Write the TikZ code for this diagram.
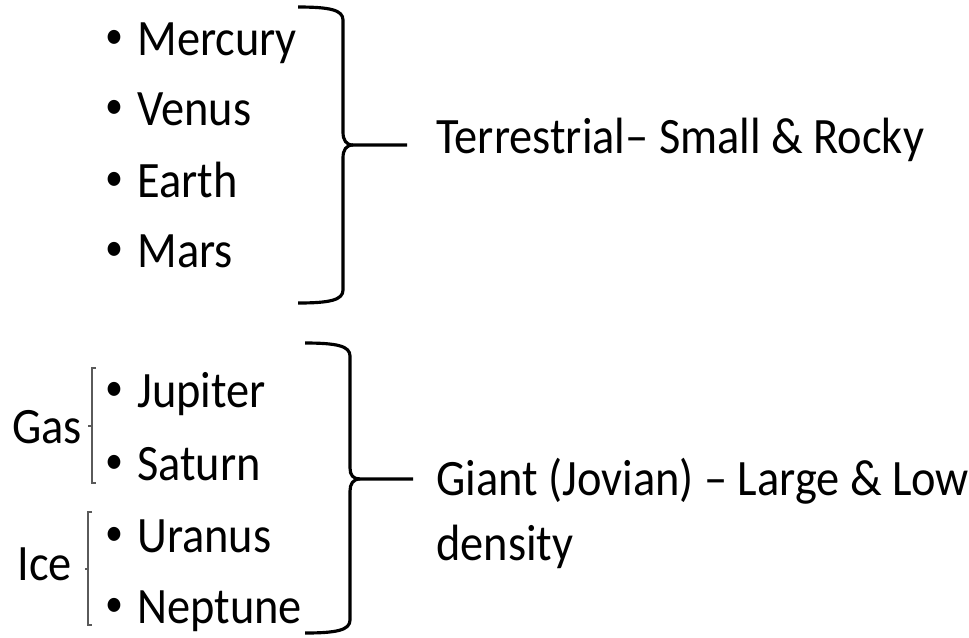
\documentclass[tikz,border=0pt]{standalone}
\usepackage{fontspec}
\setmainfont{Carlito}
\usetikzlibrary{positioning}
\definecolor{inkblack}{RGB}{0, 0, 0}
\definecolor{thingray}{RGB}{90, 90, 90}
\tikzset{
    txt/.style={inner sep=0pt, anchor=base west, text=inkblack,
        font=\fontsize{26.4}{33.5}\selectfont, yscale=1.1, transform shape},
    planet/.style={txt},
    dot/.style={txt, anchor=center, font=\fontsize{20.5}{24}\selectfont},
    bigbrace/.style={draw=inkblack, line width=1.8pt, line join=round},
    smallbrace/.style={draw=thingray, line width=1pt},
}

\begin{document}
\begin{tikzpicture}[x=0.02cm, y=-0.02cm]
    \useasboundingbox (0,0) rectangle (969,637);

    % planets, one per row
    \foreach \name/\yy [count=\i] in {Mercury/55, Venus/125, Earth/197, Mars/267,
        Jupiter/407, Saturn/480, Uranus/552, Neptune/623} {
        \node[dot] (b\i) at (114,\yy-16) {\textbullet};
        \node[planet] (p\i) at (137,\yy) {\name};
    }

    % terrestrial group
    \draw[bigbrace] (298,7) .. controls (330,7) and (343,10) .. (343,20) -- (343,132)
        .. controls (343,140) and (346,145) .. (353,145) -- (407,145);
    \draw[bigbrace] (353,145) .. controls (346,145) and (343,150) .. (343,158) -- (343,290)
        .. controls (343,300) and (330,303) .. (298,303);
    \node[txt] (terr) at (436,153) {Terrestrial– Small \& Rocky};

    % giant group
    \draw[bigbrace] (305,343) .. controls (337,343) and (350,346) .. (350,356) -- (350,468)
        .. controls (350,475) and (353,479) .. (360,479) -- (413,479);
    \draw[bigbrace] (360,479) .. controls (353,479) and (350,484) .. (350,491) -- (350,620)
        .. controls (350,630) and (337,633) .. (305,633);
    \node[txt, align=left] (giant) at (436,560) {Giant (Jovian) – Large \& Low\\density};

    % gas / ice sub groups
    \draw[smallbrace] (96,368) -- (92,368) -- (92,426) -- (88,426) (92,426) -- (92,483) -- (96,483);
    \node[txt] (gas) at (12,443) {Gas};
    \draw[smallbrace] (92,512) -- (88,512) -- (88,569) -- (85,569) (88,569) -- (88,625) -- (92,625);
    \node[txt] (ice) at (17,580) {Ice};
\end{tikzpicture}
\end{document}
